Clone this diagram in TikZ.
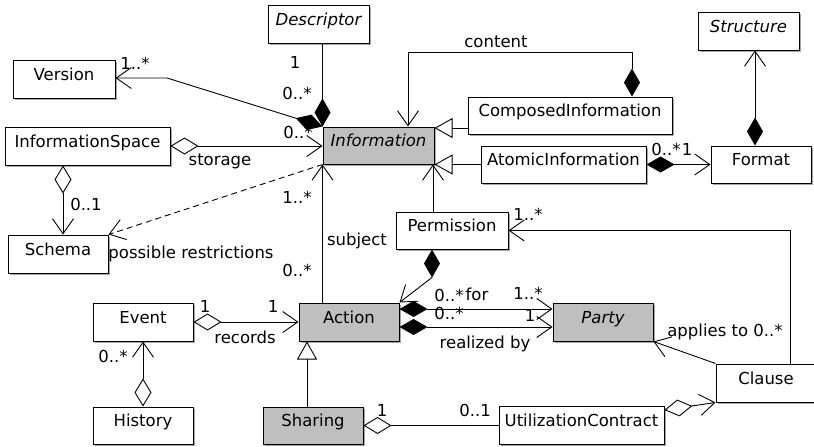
\documentclass[tikz,border=0pt]{standalone}
\usepackage{fontspec}
\setmainfont{DejaVu Sans}
\usetikzlibrary{arrows.meta,shadows}
\tikzset{
  umlbox/.style={draw=black, line width=1pt, fill=white, inner sep=0pt,
    minimum height=38pt, text height=12pt, text depth=10pt,
    drop shadow={shadow xshift=1.6pt, shadow yshift=-1.6pt, fill=black!35, opacity=1}},
  graybox/.style={umlbox, fill=black!25},
  lbl/.style={inner sep=0pt, text height=12pt, text depth=0pt},
  conn/.style={line width=0.9pt},
  barb/.tip={Straight Barb[length=15pt, width=21pt]},
  fdia/.tip={Diamond[length=28pt, width=16pt]},
  odia/.tip={Diamond[open, length=28pt, width=17pt]},
  assoc/.style={conn, -barb},
  comp/.style={conn, fdia-barb},
  compplain/.style={conn, fdia-},
  agg/.style={conn, odia-barb},
  aggplain/.style={conn, odia-},
  gen/.style={conn, -{Triangle[open, length=18pt, width=20pt]}},
  dep/.style={conn, dash pattern=on 6pt off 4pt, -barb}
}
\begin{document}
\begin{tikzpicture}[x=1pt, y=-1pt, font=\fontsize{16.5}{19}\selectfont]
\fill[white] (0,0) rectangle (814,447);
\useasboundingbox (0,0) rectangle (814,447);

% classes
\node[umlbox, minimum width=101pt] (desc) at (318.5,24) {\itshape Descriptor};
\node[umlbox, minimum width=102pt] (version) at (64,79) {Version};
\node[umlbox, minimum width=165pt] (infospace) at (87.5,146) {InformationSpace};
\node[graybox, minimum width=111pt, minimum height=37pt] (info) at (378.5,145.5) {\itshape Information};
\node[umlbox, minimum width=100pt] (schema) at (58,254) {Schema};
\node[umlbox, minimum width=100pt] (event) at (143,322) {Event};
\node[umlbox, minimum width=100pt, minimum height=37pt] (history) at (143,425.5) {History};
\node[graybox, minimum width=100pt] (action) at (349,322) {Action};
\node[graybox, minimum width=100pt, minimum height=37pt] (sharing) at (313,425.5) {Sharing};
\node[umlbox, minimum width=112pt, minimum height=37pt] (permission) at (452,230.5) {Permission};
\node[graybox, minimum width=100pt] (party) at (603,322) {\itshape Party};
\node[umlbox, minimum width=100pt] (clause) at (766,383) {Clause};
\node[umlbox, minimum width=165pt] (uc) at (581.5,425) {UtilizationContract};
\node[umlbox, minimum width=204pt, minimum height=37pt] (composed) at (570,115.5) {ComposedInformation};
\node[umlbox, minimum width=165pt, minimum height=37pt] (atomic) at (563.5,164.5) {AtomicInformation};
\node[umlbox, minimum width=100pt, minimum height=37pt] (format) at (761,164.5) {Format};
\node[umlbox, minimum width=101pt] (structure) at (748.5,31) {\itshape Structure};

% associations around Information
\draw[compplain] (info.north west) -- (info.north west |- desc.south);
\draw[comp] (info.north west) -- (167,78) coordinate (vbend) -- (vbend -| version.east);
\draw[agg] (infospace.east) -- (infospace.east -| info.west);
\draw[agg] ([xshift=-24.5pt]infospace.south) coordinate (isb) -- (isb |- schema.north);
\draw[dep] (info.south west) -- (schema.north east);
\draw[assoc] (action.north -| info.south west) -- (info.south west);
\draw[gen] ([yshift=-12.5pt]composed.west) coordinate (cg) -- (cg -| info.east);
\draw[gen] (atomic.west) -- (atomic.west -| info.east);
\draw[comp] ([xshift=62pt]composed.north) -- ++(0,-44) -| ([xshift=29.5pt]info.north);
\draw[comp] (atomic.east) -- (format.west);
\draw[comp] ([xshift=-6pt]format.north) coordinate (fs) -- (fs |- structure.south);
\draw[assoc] ([xshift=-1.5pt]info.south east |- permission.north) -- ([xshift=-1.5pt]info.south east);

% permissions, actions and parties
\draw[assoc] ([xshift=24pt]clause.north) |- (permission.east);
\draw[comp] ([xshift=-20pt]permission.south) -- ++(0,28) -- (action.north east);
\draw[comp] ([yshift=13pt]action.east) coordinate (af) -- (af -| party.west);
\draw[comp] ([yshift=-5pt]action.east) coordinate (ar) -- (ar -| party.west);
\draw[agg] (event.east) -- (action.west);
\draw[agg] (history.north) -- (event.south);
\draw[gen] ([xshift=-6pt]sharing.north) coordinate (sa) -- (sa |- action.south);
\draw[aggplain] (sharing.east) -- (sharing.east -| uc.west);
\draw[agg] ([yshift=15pt]uc.east) -- (clause.south west);
\draw[assoc] (clause.north west) -- (party.south east);

% role names and multiplicities
\node[lbl] (m1) at (295,62.5) {1};
\node[lbl] (m2) at (297,93.5) {0..*};
\node[lbl] (m3) at (135,63) {1..*};
\node[lbl] (m4) at (298,132) {0..*};
\node[lbl] (l1) at (220,159) {storage};
\node[lbl] (m5) at (86,204) {0..1};
\node[lbl] (l2) at (191,252) {possible restrictions};
\node[lbl] (m6) at (297,197.5) {1..*};
\node[lbl] (l3) at (357,239) {subject};
\node[lbl] (m7) at (297,270) {0..*};
\node[lbl] (l4) at (496,41) {content};
\node[lbl] (m8) at (666,149) {0..*};
\node[lbl] (m9) at (687,149) {1};
\node[lbl] (m10) at (528,214) {1..*};
\node[lbl] (m11) at (449,295) {0..*};
\node[lbl] (l5) at (477,294) {for};
\node[lbl] (m12) at (528,293) {1..*};
\node[lbl] (m13) at (449,313) {0..*};
\node[lbl] (m14) at (530,315) {1};
\node[lbl] (l6) at (485,342) {realized by};
\node[lbl] (l7) at (725,330) {applies to 0..*};
\node[lbl] (m15) at (205,306.5) {1};
\node[lbl] (m16) at (273,306.5) {1};
\node[lbl] (l8) at (245,337) {records};
\node[lbl] (m17) at (113,356) {0..*};
\node[lbl] (m18) at (382,410) {1};
\node[lbl] (m19) at (475,410) {0..1};
\end{tikzpicture}
\end{document}
